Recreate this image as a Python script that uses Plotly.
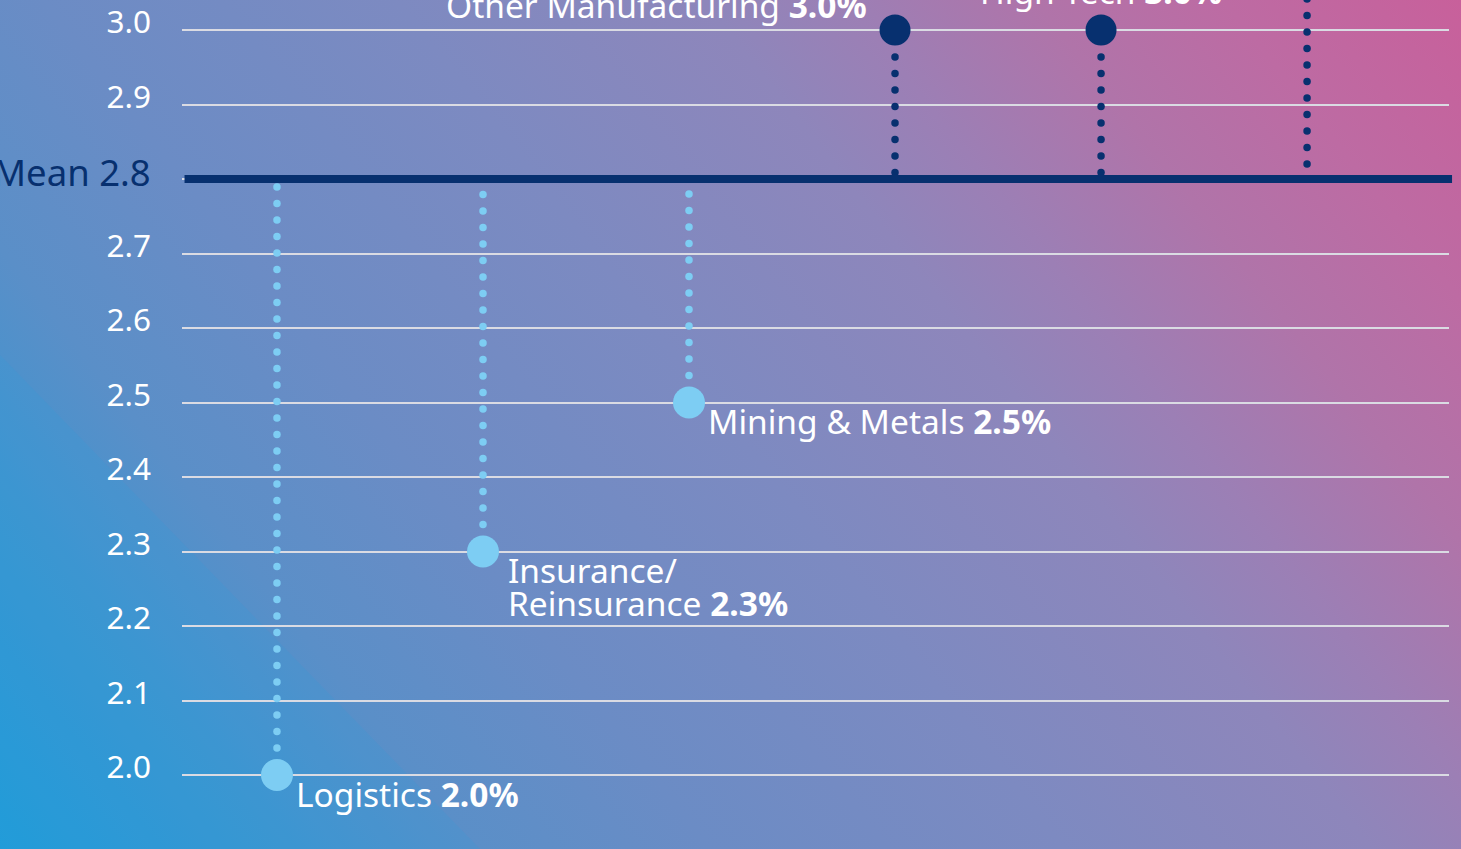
import base64
import numpy as np
import plotly.graph_objects as go

# ---------------- data ----------------
sectors = ["Logistics", "Insurance/Reinsurance", "Mining & Metals",
           "Other Manufacturing", "High Tech", "Sector 6"]
label_names = ["Logistics", "Insurance/<br>Reinsurance", "Mining & Metals",
               "Other Manufacturing", "High Tech", ""]
scores = [2.0, 2.3, 2.5, 3.0, 3.0, 3.1]
mean_score = 2.8
y_ticks = [2.0, 2.1, 2.2, 2.3, 2.4, 2.5, 2.6, 2.7, 2.8, 2.9, 3.0]
y_tick_labels = ["2.0", "2.1", "2.2", "2.3", "2.4", "2.5", "2.6", "2.7", "", "2.9", "3.0"]

# ---------------- layout constants ----------------
W, H = 1461, 849
ML, MR, MT, MB = 182, 12, 0, 0
PW = W - ML - MR
Y_RANGE = [1.9007, 3.0403]
X_RANGE = [-0.461, 5.689]
PX = (Y_RANGE[1] - Y_RANGE[0]) / (H - MT - MB)  # data units per pixel

NAVY = "#07306f"
LIGHT = "#7dcdf3"
FONT = "Noto Sans"
LABEL_SIZE = 33.5
LINE_STEP = 33

# label placement relative to marker: (side, extra horizontal pixels)
label_pos = {
    "Logistics": ("right", 0), "Insurance/Reinsurance": ("right", 6),
    "Mining & Metals": ("right", 0), "Other Manufacturing": ("left", 0),
    "High Tech": ("top", 0), "Sector 6": ("top", 0),
}

# ---------------- background (svg gradient) ----------------
stops = [(0, "#219bd8"), (0.12, "#3f94cf"), (0.2, "#5a8fc8"), (0.3, "#6b8cc5"),
         (0.45, "#7d8ac1"), (0.58, "#8e86bb"), (0.64, "#9c7fb5"), (0.72, "#b074a9"),
         (0.8, "#bd6ba3"), (0.9, "#c8609b"), (1.0, "#cc5d99")]
stop_xml = "".join(f"<stop offset='{o}' stop-color='{c}'/>" for o, c in stops)
svg = (f"<svg xmlns='http://www.w3.org/2000/svg' width='{W}' height='{H}' viewBox='0 0 {W} {H}' preserveAspectRatio='none'>"
       f"<defs><linearGradient id='g' gradientUnits='userSpaceOnUse' x1='0' y1='{H}' x2='{W}' y2='-300'>{stop_xml}</linearGradient></defs>"
       f"<rect width='{W}' height='{H}' fill='url(#g)'/>"
       f"<polygon points='0,355 480,{H} 0,{H}' fill='#20a0e0' fill-opacity='0.14'/>"
       "</svg>")
bg_uri = "data:image/svg+xml;base64," + base64.b64encode(svg.encode()).decode()

fig = go.Figure()

# ---------------- dotted stems ----------------
step = 16.5 * PX
first = 27 * PX
for col in ("light", "navy"):
    xs, ys = [], []
    for s, v in zip(sectors, scores):
        below = v < mean_score
        if (col == "light") != below:
            continue
        d = 1 if below else -1
        dist = abs(mean_score - v) - 3 * PX
        k = 0
        while first + k * step <= dist:
            xs.append(s)
            ys.append(v + d * (first + k * step))
            k += 1
    fig.add_trace(go.Scatter(
        x=xs, y=ys, mode="markers", hoverinfo="skip", showlegend=False,
        marker=dict(size=7.5, opacity=1, color=LIGHT if col == "light" else NAVY,
                    line=dict(width=0))))

# ---------------- main markers ----------------
colors = [LIGHT if v < mean_score else NAVY for v in scores]
sizes = [32 if v < mean_score else 31 for v in scores]
fig.add_trace(go.Scatter(
    x=sectors, y=scores, mode="markers", showlegend=False,
    marker=dict(size=sizes, color=colors, opacity=1, line=dict(width=0)),
    hovertemplate="%{x}: %{y:.1f}%<extra></extra>"))

# ---------------- labels ----------------
annotations = []
for s, name, v in zip(sectors, label_names, scores):
    if not name:
        continue
    lines = name.split("<br>")
    lines[-1] = f"{lines[-1]} <b>{v:.1f}%</b>"
    pos, dx = label_pos[s]
    for i, ln in enumerate(lines):
        a = dict(x=s, y=v, xref="x", yref="y", text=ln, showarrow=False,
                 font=dict(family=FONT, size=LABEL_SIZE, color="white"),
                 align="left", yanchor="middle")
        if pos == "right":
            a.update(xanchor="left", xshift=17 + dx, yshift=-18.5 - i * LINE_STEP)
        elif pos == "left":
            a.update(xanchor="right", xshift=-26 + dx, yshift=25 + (len(lines) - 1 - i) * LINE_STEP)
        else:
            a.update(xanchor="center", xshift=dx, yshift=39 + (len(lines) - 1 - i) * LINE_STEP)
        annotations.append(a)

annotations.append(dict(
    x=0, y=mean_score, xref="paper", yref="y", text=f"Mean {mean_score:.1f}",
    showarrow=False, xanchor="right", yanchor="middle", xshift=-29, yshift=7,
    font=dict(family=FONT, size=36.5, color=NAVY)))

fig.update_layout(
    width=W, height=H,
    margin=dict(l=ML, r=MR, t=MT, b=MB, pad=0),
    paper_bgcolor="#7d8ac1",
    plot_bgcolor="rgba(0,0,0,0)",
    font=dict(family=FONT, color="white"),
    showlegend=False,
    annotations=annotations,
    shapes=[dict(type="line", xref="paper", yref="y", x0=0.002, x1=1.0024,
                 y0=mean_score, y1=mean_score, line=dict(color=NAVY, width=8),
                 layer="above")],
    images=[dict(source=bg_uri, xref="paper", yref="paper",
                 x=-ML / PW, y=1, xanchor="left", yanchor="top",
                 sizex=W / PW, sizey=1, sizing="stretch", layer="below")],
    xaxis=dict(type="category", range=X_RANGE, showgrid=False, zeroline=False,
               showticklabels=False, showline=False, ticks=""),
    yaxis=dict(range=Y_RANGE, tickvals=y_ticks, ticktext=y_tick_labels,
               showgrid=True, gridcolor="#dadbe3", gridwidth=2.2, zeroline=False,
               showline=False, ticks="", ticklabelstandoff=30, ticklabelshift=-8,
               ticklabeloverflow="allow",
               tickfont=dict(family=FONT, size=31.5, color="white")),
)

fig.write_html("out.html", config={"displayModeBar": False},
               post_script="document.body.style.margin='0';document.body.style.overflow='hidden';")
